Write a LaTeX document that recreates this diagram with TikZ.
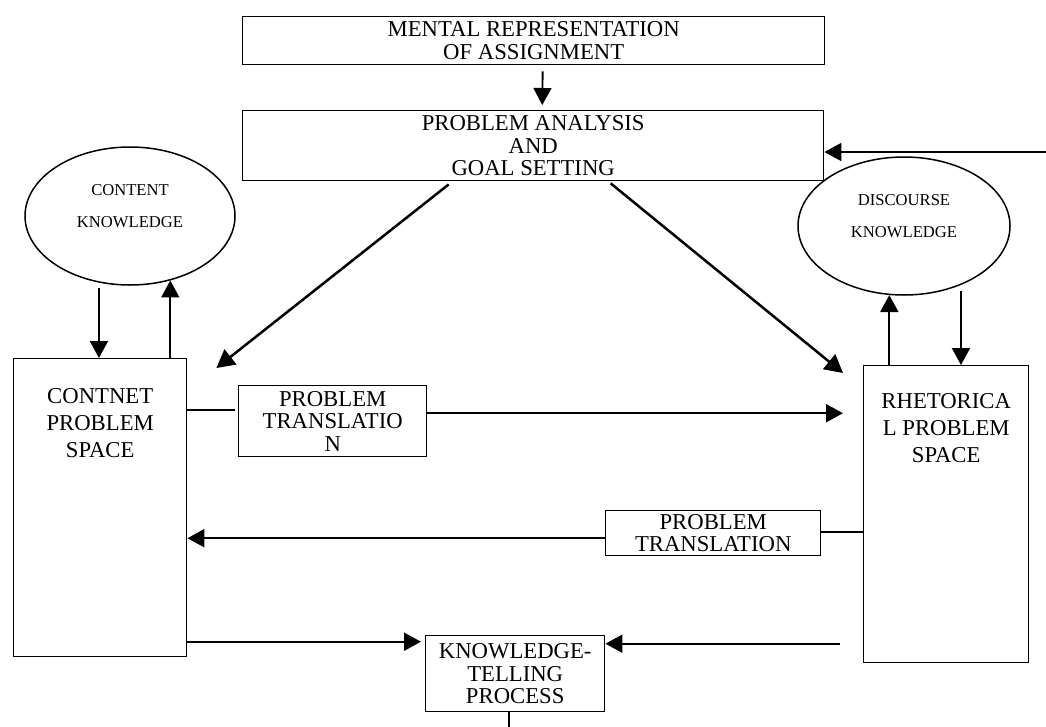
\documentclass[tikz,border=0pt]{standalone}
\usepackage{fontspec}
\setmainfont{Liberation Serif}
\usetikzlibrary{arrows.meta,shapes.geometric,calc}
\begin{document}
\begin{tikzpicture}[x=1pt,y=-1pt,
  procbox/.style={draw, line width=1.4pt, inner sep=0pt, align=center,
    anchor=north west, font=\fontsize{22.7}{22.5}\selectfont},
  spacebox/.style={draw, line width=1.4pt, inner sep=0pt, anchor=north west},
  sidetext/.style={inner sep=0pt, align=center, anchor=north,
    font=\fontsize{22.7}{27}\selectfont},
  knowell/.style={draw, ellipse, line width=1.5pt, inner sep=0pt},
  elltext/.style={inner sep=0pt, align=center, font=\fontsize{16.6}{31.5}\selectfont},
  ln/.style={line width=1.6pt},
  arr/.style={line width=1.9pt, -{Triangle[length=17pt,width=18pt]}},
  diag/.style={line width=2.5pt, -{Triangle[length=18pt,width=19pt]}}
]
\useasboundingbox (0,0) rectangle (1046,726);

% process boxes
\node[procbox, minimum width=582pt, minimum height=48pt] (tb) at (242,16)
  {MENTAL REPRESENTATION\\OF ASSIGNMENT};
\node[procbox, minimum width=581pt, minimum height=70pt] (ga) at (242,110)
  {PROBLEM ANALYSIS\\AND\\GOAL SETTING};
\node[procbox, minimum width=188pt, minimum height=71pt] (pt1) at (238,385)
  {PROBLEM\\TRANSLATIO\\N};
\node[procbox, minimum width=215pt, minimum height=45pt] (pt2) at (605,510)
  {PROBLEM\\TRANSLATION};
\node[procbox, minimum width=179pt, minimum height=76pt] (kt) at (425,635)
  {KNOWLEDGE-\\TELLING\\PROCESS};

% problem spaces
\node[spacebox, minimum width=173pt, minimum height=298pt] (cps) at (13,358) {};
\node[sidetext] (cpst) at ($(cps.north)+(0,30)$) {CONTNET\\PROBLEM\\SPACE};
\node[spacebox, minimum width=165pt, minimum height=297pt] (rps) at (863,365) {};
\node[sidetext] (rpst) at ($(rps.north)+(0,28)$) {RHETORICA\\L PROBLEM\\SPACE};

% knowledge stores
\node[knowell, minimum width=210pt, minimum height=138pt] (ck) at (130,216) {};
\node[elltext] (ckt) at ($(ck.center)+(0,-10)$) {CONTENT\\KNOWLEDGE};
\node[knowell, minimum width=212pt, minimum height=138pt] (dk) at (904,226) {};
\node[elltext] (dkt) at ($(dk.center)+(0,-10)$) {DISCOURSE\\KNOWLEDGE};

% top flow
\draw[arr, shorten <=6pt, shorten >=5pt] ([xshift=9pt]tb.south) -- ([xshift=9pt]ga.north);
\coordinate (rin) at (1046,152);
\draw[arr] (rin) -- (ga.east |- rin);

% goal setting to both problem spaces
\draw[diag] ($(ga.south)+(-84.5,3)$) -- ($(cps.north east)+(29,10)$);
\draw[diag] ($(ga.south)+(77.5,2)$) -- ($(rps.north west)+(-20,8)$);

% content knowledge exchange
\draw[arr, shorten <=5pt] (ck.-115.2) -- (ck.-115.2 |- cps.north);
\draw[arr] (ck.-58.6 |- cps.north) -- (ck.-58.6);

% discourse knowledge exchange
\draw[arr] (dk.-102.4 |- rps.north) -- (dk.-102.4);
\draw[arr, shorten <=6pt] (dk.-46.3) -- (dk.-46.3 |- rps.north);

% problem translation, content to rhetorical
\coordinate (p1l) at ($(pt1.west)+(0,-11)$);
\draw[ln] (cps.east |- p1l) -- ([xshift=-3pt]p1l);
\coordinate (p1r) at ($(pt1.east)+(0,-8)$);
\draw[arr] (p1r) -- ($(rps.west |- p1r)+(-20,0)$);

% problem translation, rhetorical to content
\coordinate (p2l) at ($(pt2.west)+(0,5)$);
\draw[arr] (p2l) -- (cps.east |- p2l);
\coordinate (p2r) at ($(pt2.east)+(0,-1)$);
\draw[ln] (p2r) -- (rps.west |- p2r);

% knowledge-telling process
\coordinate (ktl) at ($(kt.west)+(0,-32)$);
\draw[arr, shorten >=4pt] (cps.east |- ktl) -- (ktl);
\coordinate (ktr) at ($(kt.east)+(0,-30)$);
\coordinate (ktfree) at ($(rps.west |- ktr)+(-23,0)$);
\draw[arr] (ktfree) -- (ktr);
\coordinate (kto) at ($(kt.south)+(-6,15)$);
\draw[ln] ([xshift=-6pt]kt.south) -- (kto);
\end{tikzpicture}
\end{document}
